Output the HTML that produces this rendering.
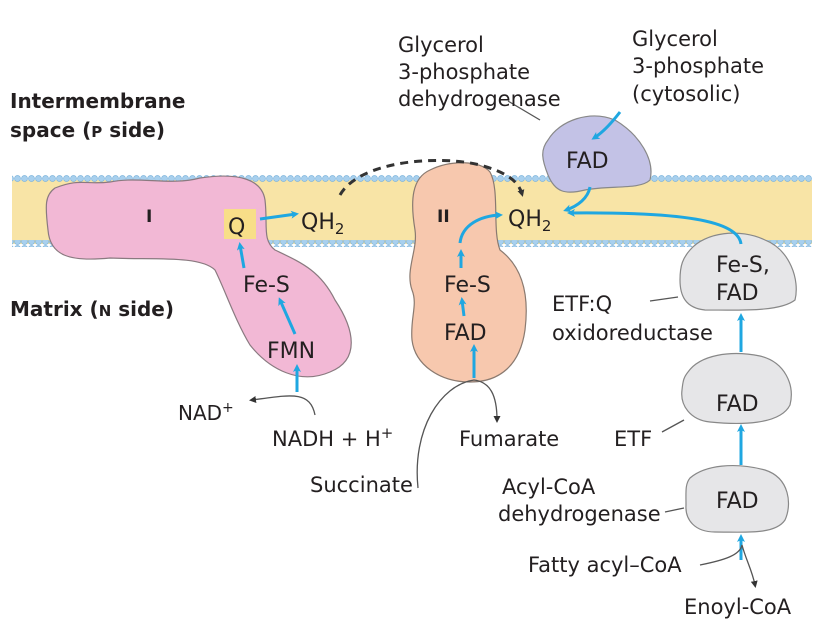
<!DOCTYPE html>
<html><head><meta charset="utf-8"><style>
html,body{margin:0;padding:0;background:#fff;}
svg{display:block;}
text{font-family:"DejaVu Sans","Liberation Sans",sans-serif;fill:#231f20;}
.b{font-weight:bold;}
</style></head><body>
<svg width="816" height="642" viewBox="0 0 816 642">
<defs>
<pattern id="beads" x="0" y="0" width="7" height="7" patternUnits="userSpaceOnUse">
<circle cx="3.5" cy="3.5" r="3" fill="#a8d0ee" stroke="#7fb5dc" stroke-width="0.7"/>
</pattern>
<marker id="ab" markerWidth="8" markerHeight="8" refX="5" refY="4" orient="auto" markerUnits="userSpaceOnUse"><path d="M0,0 L8,4 L0,8 L2,4z" fill="#1fa7e1"/></marker>
<marker id="ak" markerWidth="7" markerHeight="7" refX="4" refY="3.5" orient="auto" markerUnits="userSpaceOnUse"><path d="M0,0 L7,3.5 L0,7z" fill="#333"/></marker>
</defs>
<g>
<rect x="12" y="180" width="800" height="64" fill="#f8e4a6"/>
<rect x="12" y="175" width="800" height="7" fill="url(#beads)"/>
<rect x="12" y="240" width="800" height="7" fill="url(#beads)"/>
</g>
<text class="b" x="10" y="108" font-size="20">Intermembrane</text>
<text class="b" x="10" y="137" font-size="20">space (<tspan font-size="15">P</tspan> side)</text>
<text class="b" x="10" y="316" font-size="20">Matrix (<tspan font-size="15">N</tspan> side)</text>

<path d="M55,188 C80,178 85,185 110,182 C140,176 170,186 200,178 C240,172 262,180 265,200 C268,225 262,240 275,250 C300,262 320,270 335,300 C355,330 360,360 330,372 C300,385 270,370 250,345 C235,320 225,290 215,270 C200,255 150,260 110,258 C70,262 50,256 48,230 C45,205 45,195 55,188z" fill="#f2b8d5" stroke="#8a7a80" stroke-width="1.2"/>
<text x="146" y="222" font-size="17" class="b">I</text>
<rect x="224" y="209" width="32" height="30" fill="#f8de88"/>
<text x="228" y="234" font-size="22">Q</text>
<text x="301" y="229" font-size="22">QH<tspan font-size="15" dy="5">2</tspan></text>
<text x="243" y="292" font-size="22">Fe-S</text>
<text x="267" y="358" font-size="22">FMN</text>

<path d="M430,170 C450,160 480,160 490,172 C500,190 492,230 500,250 C520,265 530,290 525,330 C520,365 500,382 470,382 C440,382 415,365 412,340 C410,318 418,305 412,290 C405,270 418,250 415,230 C410,200 412,178 430,170z" fill="#f7c8ae" stroke="#8a7a70" stroke-width="1.2"/>
<text x="437" y="222" font-size="17" class="b">II</text>
<text x="508" y="226" font-size="22">QH<tspan font-size="15" dy="5">2</tspan></text>
<text x="444" y="292" font-size="22">Fe-S</text>
<text x="444" y="340" font-size="22">FAD</text>

<path d="M548,140 C560,120 590,110 615,120 C640,135 655,160 650,180 C640,190 610,185 585,190 C565,195 555,192 548,175 C542,160 540,150 548,140z" fill="#c3c2e6" stroke="#888" stroke-width="1.2"/>
<text x="566" y="168" font-size="22">FAD</text>

<path d="M690,250 C705,232 740,228 765,240 C790,250 800,280 795,300 C780,312 740,310 705,310 C685,308 680,295 680,280 C680,265 683,258 690,250z" fill="#e6e6e8" stroke="#888" stroke-width="1.2"/>
<text x="716" y="272" font-size="22">Fe-S,</text>
<text x="716" y="300" font-size="22">FAD</text>
<path d="M688,372 C700,355 730,350 760,356 C785,362 795,385 790,405 C780,425 740,425 710,422 C690,420 680,405 682,390 C683,380 684,377 688,372z" fill="#e6e6e8" stroke="#888" stroke-width="1.2"/>
<text x="716" y="411" font-size="22">FAD</text>
<path d="M690,478 C705,465 735,462 765,470 C790,478 792,505 785,520 C775,535 745,532 715,532 C695,532 685,520 686,505 C686,492 685,484 690,478z" fill="#e6e6e8" stroke="#888" stroke-width="1.2"/>
<text x="716" y="508" font-size="22">FAD</text>

<g fill="none" stroke="#1fa7e1" stroke-width="3">
<path d="M260,219 L296,214" marker-end="url(#ab)"/>
<path d="M244,268 L240,245" marker-end="url(#ab)"/>
<path d="M295,334 L280,300" marker-end="url(#ab)"/>
<path d="M297,392 L297,367" marker-end="url(#ab)"/>
<path d="M460,243 C462,225 480,216 500,215" marker-end="url(#ab)"/>
<path d="M461,268 L461,252" marker-end="url(#ab)"/>
<path d="M464,316 L462,300" marker-end="url(#ab)"/>
<path d="M474,378 L474,347" marker-end="url(#ab)"/>
<path d="M590,187 C588,198 578,206 566,210" marker-end="url(#ab)"/>
<path d="M620,112 C610,125 602,133 594,138" marker-end="url(#ab)"/>
<path d="M741,244 C738,220 680,212 570,213" marker-end="url(#ab)"/>
<path d="M741,352 L741,316" marker-end="url(#ab)"/>
<path d="M741,465 L741,427" marker-end="url(#ab)"/>
<path d="M741,560 L741,537" marker-end="url(#ab)"/>
</g>
<path d="M340,195 C360,160 440,155 480,165 C505,172 518,180 522,194" fill="none" stroke="#333" stroke-width="3" stroke-dasharray="8,6" marker-end="url(#ak)"/>
<g fill="none" stroke="#555" stroke-width="1.3">
<path d="M315,415 C310,390 290,395 252,400" marker-end="url(#ak)"/>
<path d="M418,488 C412,430 440,385 474,380 C490,382 497,395 497,420" marker-end="url(#ak)"/>
<path d="M700,565 C725,560 740,555 742,545 C746,560 752,570 755,585" marker-end="url(#ak)"/>
<path d="M508,101 L540,120"/>
<path d="M650,301 L678,297"/>
<path d="M662,432 L684,420"/>
<path d="M665,512 L684,508"/>
</g>
<text x="178" y="420" font-size="20">NAD<tspan font-size="14" dy="-8">+</tspan></text>
<text x="272" y="446" font-size="21">NADH + H<tspan font-size="15" dy="-8">+</tspan></text>
<text x="459" y="446" font-size="21">Fumarate</text>
<text x="310" y="492" font-size="21">Succinate</text>
<text x="398" y="52" font-size="21">Glycerol</text>
<text x="398" y="79" font-size="21">3-phosphate</text>
<text x="398" y="106" font-size="21">dehydrogenase</text>
<text x="632" y="46" font-size="21">Glycerol</text>
<text x="632" y="73" font-size="21">3-phosphate</text>
<text x="632" y="101" font-size="21">(cytosolic)</text>
<text x="552" y="311" font-size="21">ETF:Q</text>
<text x="552" y="340" font-size="21">oxidoreductase</text>
<text x="614" y="446" font-size="21">ETF</text>
<text x="502" y="494" font-size="21">Acyl-CoA</text>
<text x="498" y="521" font-size="21">dehydrogenase</text>
<text x="528" y="572" font-size="21">Fatty acyl–CoA</text>
<text x="684" y="614" font-size="21">Enoyl-CoA</text>
</svg>
</body></html>
